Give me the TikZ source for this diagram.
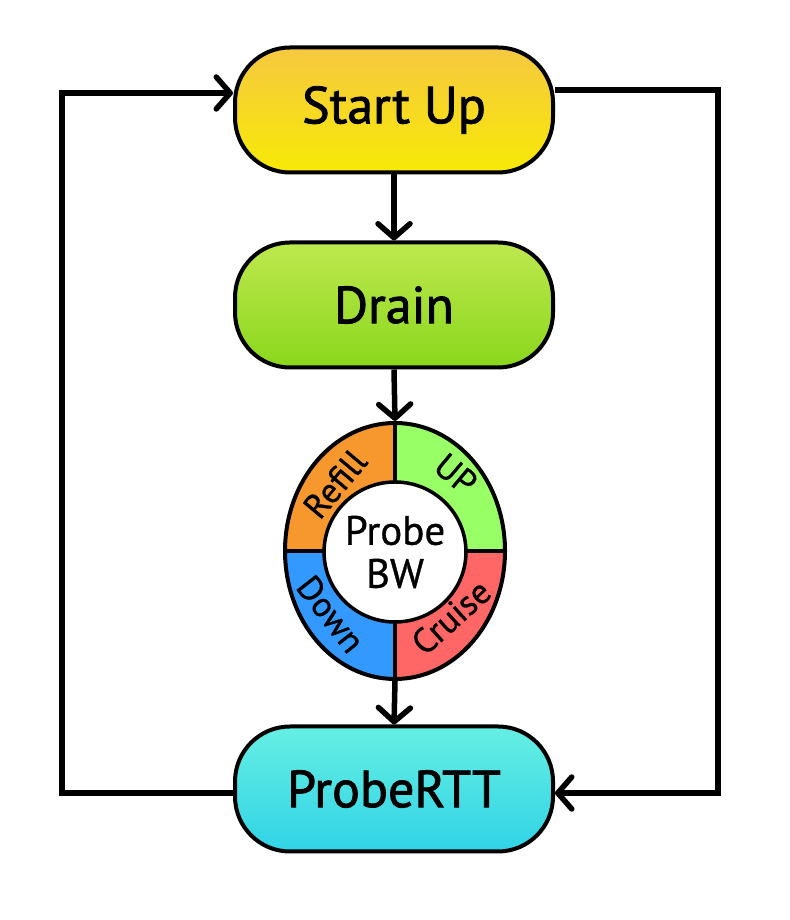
\documentclass[tikz,border=0pt]{standalone}
\usepackage{fontspec}
\setmainfont{PT Sans}
\newfontfamily\medfont{PT Sans}[FakeBold=1.6]
\newfontfamily\segfont{PT Sans}[FakeBold=0.8]
\usetikzlibrary{arrows.meta,shapes.geometric}
\definecolor{suTop}{HTML}{F6C840}
\definecolor{suBot}{HTML}{F7EA06}
\definecolor{drTop}{HTML}{BEE84E}
\definecolor{drBot}{HTML}{8AD71C}
\definecolor{prTop}{HTML}{66EFE3}
\definecolor{prBot}{HTML}{30D3E6}
\definecolor{cRefill}{HTML}{F7982F}
\definecolor{cUp}{HTML}{99FF66}
\definecolor{cDown}{HTML}{3399FF}
\definecolor{cCruise}{HTML}{FF6666}
\tikzset{
  state/.style={draw=black, line width=4pt, rounded corners=55pt,
    minimum width=318pt, minimum height=125pt, inner sep=0pt,
    font=\medfont\fontsize{52}{60}\selectfont},
  tip/.style={-{Straight Barb[round,length=14pt,width=32pt]}},
  conn/.style={line width=5.5pt, tip},
  seglabel/.style={font=\segfont\fontsize{35}{40}\selectfont, inner sep=0pt}
}
\begin{document}
\begin{tikzpicture}[x=1pt,y=1pt]
\useasboundingbox (0,0) rectangle (789,920);
% state nodes
\node[state, top color=suTop, bottom color=suBot] (su) at (394,810) {Start Up};
\node[state, top color=drTop, bottom color=drBot] (dr) at (394,615) {Drain};
\node[state, top color=prTop, bottom color=prBot] (prt) at (394,131) {ProbeRTT};
% Probe BW ring
\coordinate (c) at (395,369);
\fill[cRefill] (c) -- (285,369) arc[start angle=180, end angle=90, x radius=110, y radius=128] -- cycle;
\fill[cUp] (c) -- (395,497) arc[start angle=90, end angle=0, x radius=110, y radius=128] -- cycle;
\fill[cCruise] (c) -- (505,369) arc[start angle=0, end angle=-90, x radius=110, y radius=128] -- cycle;
\fill[cDown] (c) -- (395,241) arc[start angle=-90, end angle=-180, x radius=110, y radius=128] -- cycle;
\draw[line width=3.5pt] (285,369) -- (505,369);
\draw[line width=3.5pt] (395,241) -- (395,497);
\node[draw, line width=3.5pt, fill=white, ellipse, minimum width=126pt, minimum height=140pt, inner sep=0pt,
      align=center, font=\segfont\fontsize{41}{43}\selectfont] (inner) at (395,368) {Probe\\BW};
\node[draw, line width=4pt, ellipse, minimum width=220pt, minimum height=256pt] (pbw) at (c) {};
\node[seglabel, rotate=50] (refill) at (335,436) {Refill};
\node[seglabel, rotate=-40] (up) at (456,446) {UP};
\node[seglabel, rotate=-52] (down) at (331,306) {Down};
\node[seglabel, rotate=42] (cruise) at (451,303) {Cruise};
% vertical connectors
\draw[conn] (su.south) -- (dr.north);
\draw[conn] (dr.south) -- (pbw.north);
\draw[conn] (pbw.south) -- (prt.north);
% loops
\coordinate (lt) at (62,827);
\coordinate (lb) at (62,127);
\draw[conn, line join=miter] ([yshift=-4pt]prt.west) -- (lb) -- (lt) -- ([yshift=17pt]su.west);
\coordinate (rt) at (718,830);
\coordinate (rb) at (718,127);
\draw[conn, line join=miter] ([yshift=20pt]su.east) -- (rt) -- (rb) -- ([yshift=-4pt]prt.east);
\end{tikzpicture}
\end{document}
